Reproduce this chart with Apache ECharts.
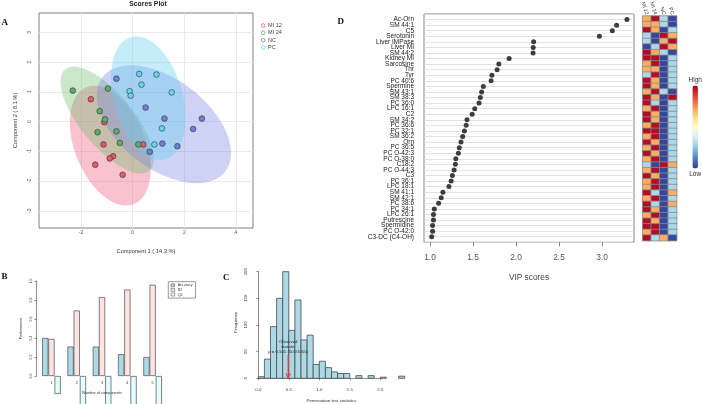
<!DOCTYPE html>
<html><head><meta charset="utf-8">
<script src="https://cdn.jsdelivr.net/npm/echarts@6/dist/echarts.min.js"></script>
<style>html,body{margin:0;padding:0;background:#fff}#c{width:702px;height:404px}</style>
</head><body><div id="c"></div>
<script>
// ---------- DATA ----------
// Panel A: PLS-DA scores
const scoreGroups = ['MI 12', 'MI 24', 'NC', 'PC'];
const mi12X = [-1.62, -1.10, -1.13, 0.40, -0.76, -0.89, -1.45, -0.39];
const mi12Y = [0.75, -0.02, -0.77, -0.77, -1.17, -1.24, -1.45, -1.79];
const mi24X = [-2.32, -0.96, -1.28, -1.07, -1.36, -0.63, -0.50, 0.22];
const mi24Y = [1.04, 1.11, 0.35, 0.07, -0.36, -0.33, -0.72, -0.77];
const ncX = [-0.63, 0.50, 1.23, 2.68, 2.34, 1.15, 1.73, 0.66];
const ncY = [1.44, 0.47, 0.10, 0.10, -0.25, -0.74, -0.83, -1.02];
const pcX = [0.25, 0.92, 0.34, -0.12, -0.08, 1.51, 1.13, 0.84];
const pcY = [1.60, 1.58, 1.24, 1.02, 0.87, 0.98, -0.23, -0.77];

// Panel B: cross-validation performance
const compCategories = ['1', '2', '3', '4', '5'];
const accuracy = [0.40, 0.31, 0.31, 0.23, 0.20];
const r2 = [0.39, 0.69, 0.83, 0.91, 0.96];
const q2 = [-0.19, -0.36, -0.33, -0.42, -0.34];

// Panel C: permutation histogram
const permBinStart = [0.0, 0.1, 0.2, 0.3, 0.4, 0.5, 0.6, 0.7, 0.8, 0.9, 1.0, 1.1, 1.2, 1.3, 1.4, 1.5, 1.6, 1.7, 1.8, 1.9, 2.0, 2.1, 2.2, 2.3];
const permBinEnd = [0.1, 0.2, 0.3, 0.4, 0.5, 0.6, 0.7, 0.8, 0.9, 1.0, 1.1, 1.2, 1.3, 1.4, 1.5, 1.6, 1.7, 1.8, 1.9, 2.0, 2.1, 2.2, 2.3, 2.4];
const permCounts = [3, 36, 97, 150, 200, 90, 147, 72, 81, 26, 32, 20, 12, 9, 9, 0, 5, 0, 5, 0, 2, 0, 0, 4];
const observedStat = 0.49;
const observedText = 'Observed\nstatistic\np = 0.501 (501/1000)';

// Panel D: VIP scores
const vipFeatures = ['Ac-Orn', 'SM 44:1', 'C5', 'Serotonin', 'Liver IMPase', 'Liver MI', 'SM 44:2', 'Kidney MI', 'Sarcosine', 'Thr',
  'Tyr', 'PC 40:6', 'Spermine', 'SM 43:1', 'SM 38:3', 'PC 36:0', 'LPC 16:1', 'C2', 'SM 34:2', 'PC 36:6',
  'PC 32:1', 'SM 36:2', 'Orn', 'PC 36:5', 'PC O-42:3', 'PC O-38:0', 'C18:2', 'PC O-44:3', 'C3', 'PC 36:1',
  'LPC 18:1', 'SM 41:1', 'SM 42:1', 'PC 38:6', 'PC 34:1', 'LPC 26:1', 'Putrescine', 'Spermidine', 'PC O-42:0', 'C3-DC (C4-OH)'];
const vipScores = [3.29, 3.17, 3.12, 2.97, 2.205, 2.20, 2.198, 1.92, 1.80, 1.78,
  1.72, 1.71, 1.62, 1.60, 1.585, 1.57, 1.52, 1.49, 1.43, 1.42,
  1.40, 1.38, 1.36, 1.34, 1.33, 1.30, 1.295, 1.28, 1.26, 1.245,
  1.22, 1.15, 1.13, 1.10, 1.05, 1.04, 1.04, 1.03, 1.03, 1.02];

// Heatmap (relative concentration per group)
const heatGroups = ['MI 12', 'MI 24', 'NC', 'PC'];
const heatMI12 = [0.8, 0.8, 1.9, -0.8, -0.8, -1.9, 1.9, 1.9, 0.8, 0.8, -0.8, 1.9, 1.9, 0.8, 1.9, 1.9, 0.8, 1.9, 1.9, 0.8,
  1.9, 0.8, 1.9, 0.8, 1.9, 0.8, -0.8, 0.8, 1.9, 0.8, 0.8, 1.9, 0.8, 1.9, 1.9, 0.8, 1.9, 1.9, 0.8, 1.9];
const heatMI24 = [1.9, 0.8, 0.8, -1.9, -1.9, -0.8, 0.8, 1.9, 1.9, 0.8, 1.9, 0.8, 0.8, 1.9, 0.8, -0.8, 1.9, 0.8, 0.8, 1.9,
  1.9, 1.9, 0.8, 1.9, 0.8, 1.9, -1.9, 1.9, 0.8, 1.9, 1.9, -0.8, 1.9, -0.8, 0.8, 1.9, 0.8, 1.9, 1.9, -0.8];
const heatNC = [-0.8, -0.8, -1.9, 1.9, 0.8, 1.9, -0.8, -1.9, -1.9, -1.9, -1.9, -1.9, -1.9, -0.8, -1.9, -1.9, -1.9, -1.9, -1.9, -1.9,
  -1.9, -1.9, -1.9, -1.9, -1.9, -1.9, 1.9, -1.9, -1.9, -1.9, -1.9, -1.9, -1.9, -1.9, -1.9, -1.9, -1.9, -1.9, -1.9, 0.8];
const heatPC = [-1.9, -1.9, -0.8, 0.8, 1.9, 0.8, -1.9, -0.8, -0.8, -0.8, -0.8, -0.8, -0.8, -1.9, 1.9, -0.8, -0.8, -0.8, -0.8, -0.8,
  -0.8, -0.8, -0.8, -0.8, -0.8, -0.8, 0.8, -0.8, -0.8, -0.8, -0.8, 0.8, -0.8, 0.8, -0.8, -0.8, -0.8, -0.8, -0.8, -1.9];

// ---------- LAYOUT / STYLE ----------
const FONT = '"Liberation Sans", Arial, sans-serif';
const SERIF = '"Liberation Serif", "Times New Roman", serif';
const ptColors = ['#E3586F', '#5BAE62', '#6E80D8', '#68D4EF'];
const fillColors = ['rgba(236,96,128,0.38)', 'rgba(112,188,108,0.36)', 'rgba(118,130,224,0.36)', 'rgba(100,208,240,0.38)'];
const barColors = ['#ADD8E6', '#FFE4E1', '#E0FFFF'];

const A = {left: 39, top: 13, w: 214, h: 215, x: [-3.63, 4.66], y: [-3.58, 3.65]};
const pxA = v => A.left + (v - A.x[0]) / (A.x[1] - A.x[0]) * A.w;
const pyA = v => A.top + (A.y[1] - v) / (A.y[1] - A.y[0]) * A.h;

const C = {left: 258.3, base: 378.3, pxPerUnit: 61, pxPerCount: 0.533, xmax: 2.4, ymax: 210};
const D = {left: 424, top: 14, w: 210, h: 228.3, x: [0.93, 3.372]};
const pxD = v => D.left + (v - D.x[0]) / (D.x[1] - D.x[0]) * D.w;

// 95% confidence ellipse (ellipse package formula)
function ellipsePts(xs, ys) {
  const n = xs.length;
  const mx = xs.reduce((a, b) => a + b, 0) / n, my = ys.reduce((a, b) => a + b, 0) / n;
  let sxx = 0, syy = 0, sxy = 0;
  for (let i = 0; i < n; i++) { sxx += (xs[i] - mx) ** 2; syy += (ys[i] - my) ** 2; sxy += (xs[i] - mx) * (ys[i] - my); }
  sxx /= n - 1; syy /= n - 1; sxy /= n - 1;
  const sx = Math.sqrt(sxx), sy = Math.sqrt(syy), r = sxy / (sx * sy);
  const t = Math.sqrt(5.991464547), d = Math.acos(r);
  const pts = [];
  for (let k = 0; k < 100; k++) {
    const a = 2 * Math.PI * k / 100;
    pts.push([mx + t * sx * Math.cos(a + d / 2), my + t * sy * Math.cos(a - d / 2)]);
  }
  return pts;
}
const groupXs = [mi12X, mi24X, ncX, pcX], groupYs = [mi12Y, mi24Y, ncY, pcY];
const ellipses = groupXs.map((xs, i) => ellipsePts(xs, groupYs[i]));

const heatCols = [heatMI12, heatMI24, heatNC, heatPC];
const heatData = [];
vipFeatures.forEach((f, r) => heatCols.forEach((col, c) => heatData.push([c, r, col[r]])));

const nameOnly = (extra) => Object.assign({
  show: true, axisLine: {show: false}, axisTick: {show: false}, axisLabel: {show: false}, splitLine: {show: false}
}, extra);

const grids = [
  {left: A.left, top: A.top, width: A.w, height: A.h, show: true, borderColor: '#808080', borderWidth: 1, backgroundColor: 'transparent'},
  {left: pxA(-2), top: A.top, width: pxA(4) - pxA(-2), height: A.h},
  {left: A.left, top: pyA(3), width: A.w, height: pyA(-3) - pyA(3)},
  {left: 38.8, top: 281, width: 126.5, height: 95},
  {left: C.left, top: C.base - C.ymax * C.pxPerCount, width: C.xmax * C.pxPerUnit, height: C.ymax * C.pxPerCount},
  {left: C.left, top: C.base - 200 * C.pxPerCount, width: 2 * C.pxPerUnit, height: 200 * C.pxPerCount},
  {left: D.left, top: D.top, width: D.w, height: D.h, show: true, borderColor: '#666', borderWidth: 0.8, backgroundColor: 'transparent'},
  {left: pxD(1), top: D.top, width: pxD(3) - pxD(1), height: D.h},
  {left: 642.7, top: 16, width: 34, height: 224.7}
].map(g => Object.assign({outerBoundsMode: 'none', containLabel: false}, g));

const axLabel = (o) => Object.assign({fontFamily: FONT, color: '#555'}, o);

const xAxis = [
  nameOnly({gridIndex: 0, type: 'value', min: A.x[0], max: A.x[1], name: 'Component 1 ( 14.3 %)', nameLocation: 'middle', nameGap: 20.5,
    nameTextStyle: {fontSize: 5.7, color: '#333', fontFamily: FONT}}),
  {gridIndex: 1, type: 'value', min: -2, max: 4, interval: 2, axisLine: {show: false}, axisTick: {show: false},
    axisLabel: axLabel({fontSize: 5, margin: 2.5}), splitLine: {show: true, lineStyle: {color: '#e6e6e6', width: 0.8}}},
  {gridIndex: 2, type: 'value', min: 0, max: 1, show: false},
  {gridIndex: 3, type: 'category', data: compCategories, z: 5, axisLine: {show: false}, axisTick: {show: false},
    axisLabel: axLabel({fontSize: 3.8, margin: 5.4, interval: 0, color: '#333'}), name: 'Number of components', nameLocation: 'middle', nameGap: 14.8,
    nameTextStyle: {fontSize: 3.8, color: '#333', fontFamily: FONT}},
  nameOnly({gridIndex: 4, type: 'value', min: 0, max: C.xmax, name: 'Permutation test statistics', nameLocation: 'middle', nameGap: 20.4,
    nameTextStyle: {fontSize: 4.4, color: '#333', fontFamily: FONT}}),
  {gridIndex: 5, type: 'value', min: 0, max: 2, interval: 0.5, offset: 4.4,
    axisLine: {show: true, lineStyle: {color: '#444', width: 0.6}}, axisTick: {show: true, length: 2, lineStyle: {color: '#444', width: 0.6}},
    axisLabel: axLabel({fontSize: 4.3, margin: 5, formatter: v => v.toFixed(1), color: '#333'}), splitLine: {show: false}},
  nameOnly({gridIndex: 6, type: 'value', min: D.x[0], max: D.x[1], name: 'VIP scores', nameLocation: 'middle', nameGap: 31.5,
    nameTextStyle: {fontSize: 8.3, color: '#444', fontFamily: FONT}}),
  {gridIndex: 7, type: 'value', min: 1, max: 3, interval: 0.5, axisLine: {show: false},
    axisTick: {show: true, length: 4, lineStyle: {color: '#666', width: 0.8}},
    axisLabel: axLabel({fontSize: 8.4, margin: 11, formatter: v => v.toFixed(1), color: '#555'}), splitLine: {show: false}},
  {gridIndex: 8, type: 'category', position: 'top', data: heatGroups, axisLine: {show: false}, axisTick: {show: false},
    axisLabel: axLabel({fontSize: 5.2, rotate: 72, margin: 1.5, interval: 0, color: '#333'}), splitLine: {show: false}}
];

const yAxis = [
  nameOnly({gridIndex: 0, type: 'value', min: A.y[0], max: A.y[1], name: 'Component 2 ( 8.1 %)', nameLocation: 'middle', nameGap: 20.7, nameRotate: 90,
    nameTextStyle: {fontSize: 5.7, color: '#333', fontFamily: FONT}}),
  {gridIndex: 1, type: 'value', min: 0, max: 1, show: false},
  {gridIndex: 2, type: 'value', min: -3, max: 3, interval: 1, axisLine: {show: false}, axisTick: {show: false},
    axisLabel: axLabel({fontSize: 5, rotate: 90, margin: 7}), splitLine: {show: true, lineStyle: {color: '#e6e6e6', width: 0.8}}},
  {gridIndex: 3, type: 'value', min: 0, max: 1, interval: 0.2, offset: 2.4,
    axisLine: {show: true, lineStyle: {color: '#444', width: 0.6}}, axisTick: {show: true, length: 2, lineStyle: {color: '#444', width: 0.6}},
    axisLabel: axLabel({fontSize: 3.5, rotate: 90, margin: 3.5, formatter: v => v.toFixed(1), color: '#333'}), splitLine: {show: false},
    name: 'Performance', nameLocation: 'middle', nameRotate: 90, nameGap: 13.4, nameTextStyle: {fontSize: 3.8, color: '#333', fontFamily: FONT}},
  nameOnly({gridIndex: 4, type: 'value', min: 0, max: C.ymax, name: 'Frequency', nameLocation: 'middle', nameRotate: 90, nameGap: 21,
    nameTextStyle: {fontSize: 4.4, color: '#333', fontFamily: FONT}}),
  {gridIndex: 5, type: 'value', min: 0, max: 200, interval: 50, offset: 5.9,
    axisLine: {show: true, lineStyle: {color: '#444', width: 0.6}}, axisTick: {show: true, length: 2, lineStyle: {color: '#444', width: 0.6}},
    axisLabel: axLabel({fontSize: 4.3, rotate: 90, margin: 5, color: '#333'}), splitLine: {show: false}},
  {gridIndex: 6, type: 'value', min: 0, max: 41, interval: 1, inverse: true, axisLine: {show: false}, axisTick: {show: false},
    axisLabel: axLabel({fontSize: 6.5, margin: 10, color: '#1a1a1a', formatter: v => vipFeatures[v - 1] || ''}),
    splitLine: {show: true, lineStyle: {color: '#dadada', width: 0.8}}},
  {gridIndex: 7, type: 'value', min: 0, max: 1, show: false},
  {gridIndex: 8, type: 'category', data: vipFeatures, inverse: true, show: false}
];

const series = [];
// ellipses
series.push({
  type: 'custom', xAxisIndex: 0, yAxisIndex: 0, clip: true, silent: true, z: 1,
  data: ellipses.map((e, i) => [e[0][0], e[0][1], i]),
  encode: {x: 0, y: 1},
  renderItem: (params, api) => {
    const gi = api.value(2);
    return {type: 'polygon', shape: {points: ellipses[gi].map(p => api.coord(p))}, style: {fill: fillColors[gi], stroke: null}};
  }
});
scoreGroups.forEach((g, i) => series.push({
  type: 'scatter', name: g, xAxisIndex: 0, yAxisIndex: 0, symbolSize: 5.7, z: 3,
  data: groupXs[i].map((x, k) => [x, groupYs[i][k]]),
  itemStyle: {color: ptColors[i], borderColor: '#333', borderWidth: 0.6, opacity: 1}
}));
// performance bars
[['Accuracy', accuracy], ['R2', r2], ['Q2', q2]].forEach(([n, d], i) => series.push({
  type: 'bar', name: n, xAxisIndex: 3, yAxisIndex: 3, data: d, barWidth: 6.2, barGap: '0%', clip: false,
  itemStyle: {color: barColors[i], borderColor: '#4d4d4d', borderWidth: 0.7}
}));
// histogram
series.push({
  type: 'custom', xAxisIndex: 4, yAxisIndex: 4, silent: true,
  data: permCounts.map((c, i) => [permBinStart[i], permBinEnd[i], c]).filter(d => d[2] > 0),
  encode: {x: [0, 1], y: 2},
  renderItem: (params, api) => {
    const p0 = api.coord([api.value(0), 0]), p1 = api.coord([api.value(1), api.value(2)]);
    return {type: 'rect', shape: {x: p0[0], y: p1[1], width: p1[0] - p0[0], height: p0[1] - p1[1]},
      style: {fill: '#ADD8E6', stroke: '#4a4a4a', lineWidth: 0.8}};
  }
});
// observed statistic arrow
series.push({
  type: 'custom', xAxisIndex: 4, yAxisIndex: 4, silent: true, z: 5,
  data: [[observedStat, 44, 1.5, 45]],
  encode: {x: 0, y: 1},
  renderItem: (params, api) => {
    const x = api.value(0);
    const top = api.coord([x, api.value(1)]), bot = api.coord([x, api.value(2)]), tp = api.coord([x, api.value(3)]);
    return {type: 'group', children: [
      {type: 'line', shape: {x1: top[0], y1: top[1], x2: bot[0], y2: bot[1]}, style: {stroke: '#F23A3A', lineWidth: 1.2}},
      {type: 'polyline', shape: {points: [[bot[0] - 2.3, bot[1] - 4], [bot[0], bot[1]], [bot[0] + 2.3, bot[1] - 4]]},
        style: {stroke: '#F23A3A', lineWidth: 1.2, fill: null}},
      {type: 'text', x: tp[0], y: tp[1], style: {text: observedText, fontSize: 4.3, lineHeight: 5, fontFamily: FONT,
        align: 'center', verticalAlign: 'bottom', fill: '#2a2a2a'}}
    ]};
  }
});
// VIP dots
series.push({
  type: 'scatter', xAxisIndex: 6, yAxisIndex: 6, symbolSize: 5, z: 4,
  data: vipScores.map((v, i) => [v, i + 1]),
  itemStyle: {color: '#3d3d3d', opacity: 1}
});
// heatmap
series.push({
  type: 'heatmap', xAxisIndex: 8, yAxisIndex: 8, data: heatData,
  itemStyle: {borderColor: '#8a8a8a', borderWidth: 0.8}
});

const option = {
  animation: false,
  backgroundColor: '#fff',
  textStyle: {fontFamily: FONT},
  grid: grids, xAxis, yAxis, series,
  legend: [
    {orient: 'vertical', left: 261, top: 22.5, padding: 0, itemGap: 1.3, itemWidth: 3.6, itemHeight: 3.6, selectedMode: false,
      textStyle: {fontSize: 5.5, color: '#444', fontFamily: FONT, padding: [0, 0, 0, -2]},
      data: scoreGroups.map((g, i) => ({name: g, icon: 'circle', itemStyle: {color: '#fff', borderColor: ptColors[i], borderWidth: 0.8}}))},
    {orient: 'vertical', left: 168.3, top: 281.7, padding: [1.6, 3, 1.6, 2.5], itemGap: 0.6, itemWidth: 3.6, itemHeight: 3, selectedMode: false,
      borderColor: '#555', borderWidth: 0.6,
      textStyle: {fontSize: 3.6, color: '#333', fontFamily: FONT, padding: [0, 0, 0, -2]},
      data: ['Accuracy', 'R2', 'Q2'].map((n, i) => ({name: n, icon: 'rect',
        itemStyle: {color: barColors[i], borderColor: '#4d4d4d', borderWidth: 0.5}}))}
  ],
  visualMap: {
    type: 'continuous', seriesIndex: series.length - 1, min: -2, max: 2, calculable: false, orient: 'vertical',
    left: 688.5, top: 76.5, itemWidth: 5.5, itemHeight: 83, text: ['High', 'Low'], textGap: 2, padding: 0,
    textStyle: {fontSize: 6.5, color: '#333', fontFamily: FONT},
    inRange: {color: ['#313695', '#4575b4', '#74add1', '#abd9e9', '#e0f3f8', '#ffffbf', '#fee090', '#fdae61', '#f46d43', '#d73027', '#a50026']}
  },
  graphic: [
    {type: 'text', x: 148, y: 4.5, style: {text: 'Scores Plot', font: 'bold 6.8px ' + FONT, fill: '#222', align: 'center', verticalAlign: 'middle'}},
    {type: 'text', x: 1.5, y: 23, style: {text: 'A', font: 'bold 9px ' + SERIF, fill: '#111', align: 'left', verticalAlign: 'middle'}},
    {type: 'text', x: 1.5, y: 276.5, style: {text: 'B', font: 'bold 9px ' + SERIF, fill: '#111', align: 'left', verticalAlign: 'middle'}},
    {type: 'text', x: 223, y: 277.5, style: {text: 'C', font: 'bold 9px ' + SERIF, fill: '#111', align: 'left', verticalAlign: 'middle'}},
    {type: 'text', x: 337.5, y: 22, style: {text: 'D', font: 'bold 9px ' + SERIF, fill: '#111', align: 'left', verticalAlign: 'middle'}}
  ]
};

const chart = echarts.init(document.getElementById('c'), null, {renderer: 'canvas', width: 702, height: 404});
chart.setOption(option);
</script>
</body></html>
